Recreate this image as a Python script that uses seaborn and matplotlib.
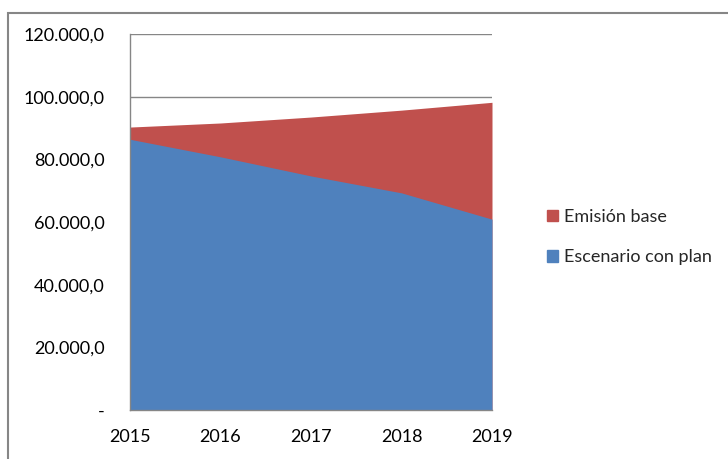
import matplotlib
matplotlib.use("Agg")
import matplotlib.pyplot as plt
import matplotlib.ticker as mticker
from matplotlib.patches import Rectangle, Patch
import seaborn as sns
import pandas as pd

years = [2015, 2016, 2017, 2018, 2019]
emision_base = [90300, 91600, 93500, 95700, 98200]
escenario_plan = [86400, 80800, 74700, 69300, 60900]
y_ticks = [0, 20000, 40000, 60000, 80000, 100000, 120000]

blue = "#4F81BD"
red = "#C0504D"
grey = "#868686"

sns.set_style("white")
plt.rcParams["font.family"] = ["Lato", "DejaVu Sans"]

df = pd.DataFrame({"year": years, "Emisión base": emision_base,
                   "Escenario con plan": escenario_plan})

fig = plt.figure(figsize=(7.28, 4.59), dpi=100)
ax = fig.add_axes([130 / 728, 1 - 410 / 459, 362 / 728, 376 / 459])

ax.fill_between(df["year"], 0, df["Emisión base"], color=red, lw=0, zorder=2)
ax.fill_between(df["year"], 0, df["Escenario con plan"], color=blue, lw=0, zorder=3)

ax.set_xlim(2015, 2019)
ax.set_ylim(0, 120000)
ax.set_xticks(years)
ax.set_yticks(y_ticks)

def fmt(v, pos):
    if v == 0:
        return "-"
    return f"{v:,.1f}".replace(",", "X").replace(".", ",").replace("X", ".")

ax.yaxis.set_major_formatter(mticker.FuncFormatter(fmt))
ax.grid(axis="y", color=grey, lw=1, zorder=0)
ax.set_axisbelow(True)
for s in ["top", "right"]:
    ax.spines[s].set_visible(False)
for s in ["left", "bottom"]:
    ax.spines[s].set_color(grey)
    ax.spines[s].set_linewidth(1)
    ax.spines[s].set_zorder(4)
ax.tick_params(axis="both", which="both", direction="out", length=6, color=grey,
               width=1, labelsize=13, labelcolor="#000000")
ax.tick_params(axis="y", pad=12)
ax.tick_params(axis="x", pad=8)
ax.set_xlabel("")
ax.set_ylabel("")

handles = [Patch(color=red, label="Emisión base"),
           Patch(color=blue, label="Escenario con plan")]
fig.legend(handles=handles, loc="center left", bbox_to_anchor=(531 / 728, 1 - 237 / 459),
           frameon=False, fontsize=13, handlelength=0.6, handleheight=0.6,
           handletextpad=0.35, labelspacing=1.35)

fig.patches.append(Rectangle((8 / 728, -0.05), 1.0, 1 - 13 / 459 + 0.05,
                             transform=fig.transFigure, fill=False,
                             edgecolor=grey, lw=1.5))

fig.savefig("out.png", dpi=100)
